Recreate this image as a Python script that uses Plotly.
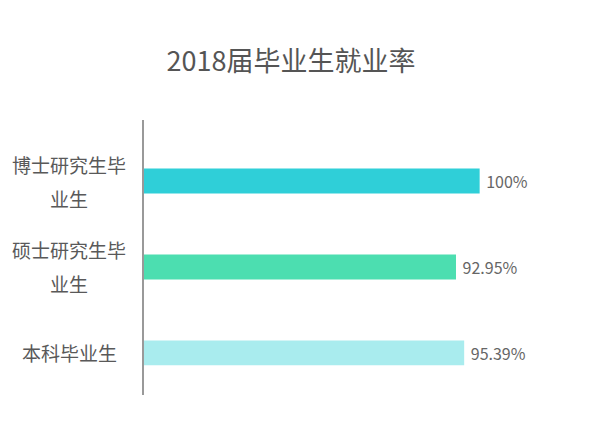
import plotly.graph_objects as go

# data
categories = ["博士研究生毕业生", "硕士研究生毕业生", "本科毕业生"]
label_lines = [["博士研究生毕", "业生"], ["硕士研究生毕", "业生"], ["本科毕业生"]]
rates = [100, 92.95, 95.39]
rate_text = ["100%", "92.95%", "95.39%"]
bar_colors = ["#2fcfd8", "#4cdeb0", "#a9ecee"]

FONT = "Noto Sans CJK SC"

fig = go.Figure()

fig.add_trace(go.Bar(
    x=rates,
    y=categories,
    orientation="h",
    width=0.29,
    marker=dict(color=bar_colors, line=dict(width=0)),
    text=[" " + t for t in rate_text],
    textposition="outside",
    cliponaxis=False,
    textfont=dict(family=FONT, size=16, color="#666666"),
    hoverinfo="skip",
))

# category labels, one annotation per line so the line gap matches
annotations = []
for cat, lines in zip(categories, label_lines):
    n = len(lines)
    for i, line in enumerate(lines):
        annotations.append(dict(
            x=0, y=cat, xref="x", yref="y",
            text=line,
            showarrow=False,
            xanchor="center",
            xshift=-75,
            yshift=(n - 1) * 17 - i * 34,
            font=dict(family=FONT, size=19, color="#595959"),
        ))

# the page adds an 8px body margin, so the figure is drawn 8px smaller
fig.update_layout(
    width=593,
    height=415,
    margin=dict(l=136, r=71, t=112, b=28),
    paper_bgcolor="white",
    plot_bgcolor="white",
    showlegend=False,
    title=dict(
        text="2018届毕业生就业率",
        x=283 / 593,
        xanchor="center",
        xref="container",
        y=1 - 54 / 415,
        yanchor="middle",
        font=dict(family=FONT, size=27, color="#555555"),
    ),
    annotations=annotations,
)

fig.update_xaxes(
    range=[0, 115],
    showgrid=False,
    zeroline=False,
    showline=False,
    showticklabels=False,
    ticks="",
)
fig.update_yaxes(
    type="category",
    range=[2.49, -0.71],
    showgrid=False,
    zeroline=False,
    showline=True,
    linecolor="#999999",
    linewidth=1.5,
    showticklabels=False,
    ticks="",
)

fig.write_html("out.html")
